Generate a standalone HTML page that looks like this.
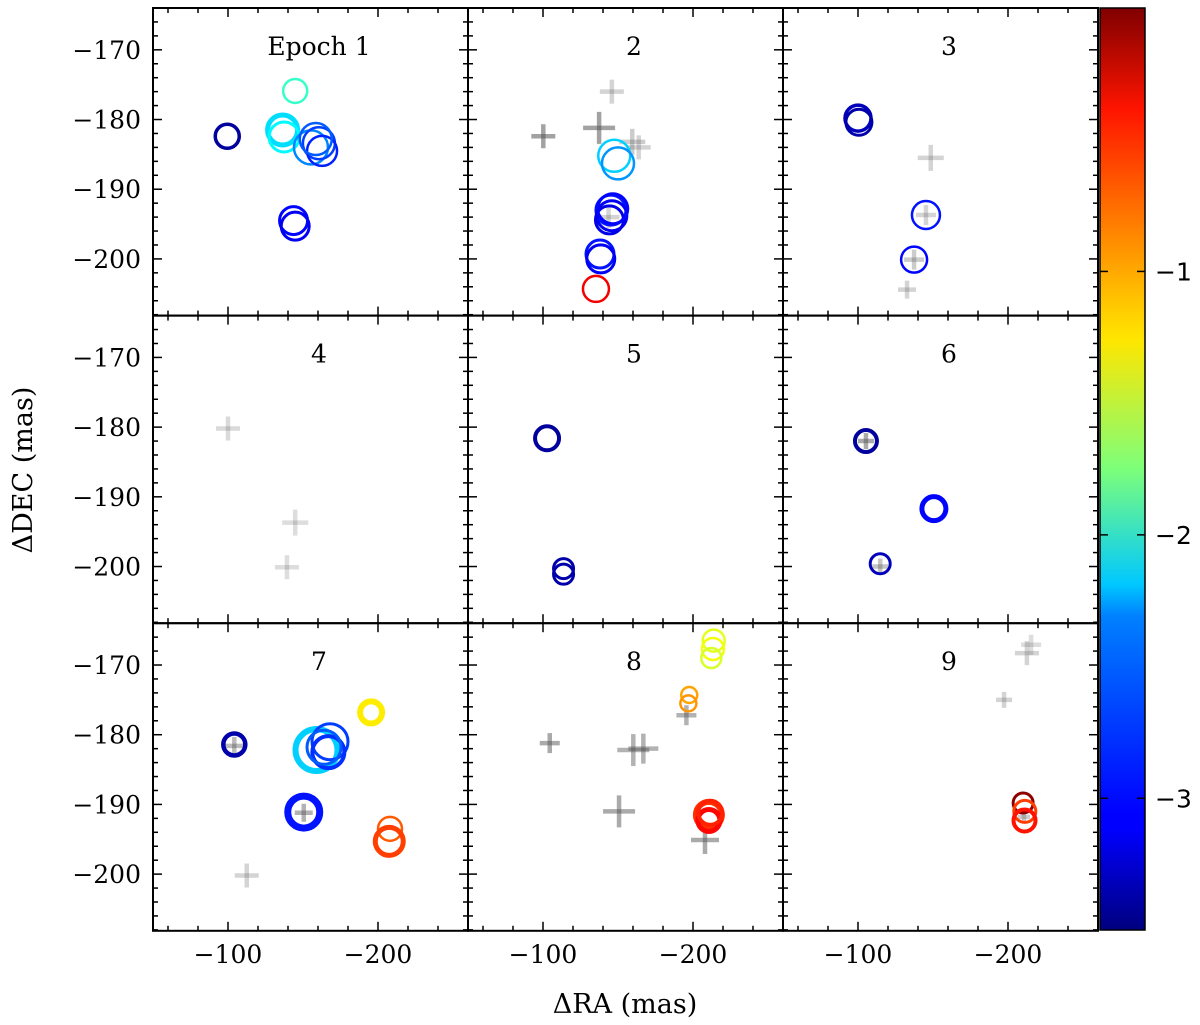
<!DOCTYPE html>
<html><head><meta charset="utf-8">
<style>
html,body{margin:0;padding:0;background:#fff;}
svg{display:block;}
.tk{font-family:"DejaVu Serif","Liberation Serif",serif;font-size:25px;fill:#000;}
.ax{font-family:"DejaVu Serif","Liberation Serif",serif;font-size:27px;fill:#000;}
.cb{font-family:"DejaVu Sans","Liberation Sans",sans-serif;font-size:25px;fill:#000;}
</style></head>
<body>
<svg id="fig" width="1200" height="1025" viewBox="0 0 1200 1025" xmlns="http://www.w3.org/2000/svg">
<defs>
<linearGradient id="jet" x1="0" y1="1" x2="0" y2="0">
<stop offset="0" stop-color="#00007f"/><stop offset="0.11" stop-color="#0000ff"/><stop offset="0.125" stop-color="#0000ff"/>
<stop offset="0.34" stop-color="#0080ff"/><stop offset="0.375" stop-color="#00c8ff"/><stop offset="0.5" stop-color="#7dff7a"/>
<stop offset="0.64" stop-color="#ffe600"/><stop offset="0.66" stop-color="#ffd700"/><stop offset="0.89" stop-color="#ff1400"/><stop offset="1" stop-color="#7f0000"/>
</linearGradient>
</defs>
<g id="panels"></g>
<g id="marks"></g>
<g id="frames"></g>
</svg>
<script>
// Panel labels
const panelLabels = ["Epoch 1","2","3","4","5","6","7","8","9"];
// Axis ticks
const xTickVals = [-100,-200];
const yTickVals = [-170,-180,-190,-200];
const cbTickVals = [-1,-2,-3];
// Circle markers (detections): panel index 1-9, RA, DEC, colour value (log)
const circPanel = [1,1,1,1,1,1,1,1,1,1, 2,2,2,2,2,2,2,2,2, 3,3,3,3, 5,5,5, 6,6,6, 7,7,7,7,7,7,7,7,7, 8,8,8,8,8,8,8,8, 9,9,9];
const circRA = [-99.5,-144.8,-136.4,-137.4,-155.3,-160.6,-162.7,-143.7,-144.8,-158.5,
  -147.5,-150,-145.3,-145.9,-144.3,-138,-138.5,-135.3,-146.5,
  -100,-100.6,-145.3,-137.4,
  -102.7,-113.7,-113.7,
  -105.3,-150.6,-114.8,
  -104.2,-159,-168,-166.9,-195.4,-150.5,-208,-207.5,-164,
  -213.8,-213.3,-212.2,-197.5,-196.9,-210.6,-210.6,-211.5,
  -210.1,-211.2,-211];
const circDEC = [-182.4,-175.9,-181.5,-182.5,-184,-183.4,-184.5,-194.5,-195.3,-182.8,
  -185.2,-186.3,-193,-193.8,-194.4,-199.3,-200,-204.3,-192.8,
  -179.8,-180.4,-193.7,-200.1,
  -181.6,-200.3,-201.1,
  -182,-191.7,-199.6,
  -181.4,-182.2,-181,-182.5,-176.8,-191.1,-193.5,-195.3,-181.8,
  -166.5,-167.7,-169,-174.3,-175.5,-191.5,-192.3,-191.2,
  -189.8,-191,-192.3];
const circVal = [-3.4,-2.0,-2.3,-2.2,-2.6,-2.85,-2.95,-3.05,-3.1,-2.75,
  -2.35,-2.55,-3.0,-3.1,-3.15,-3.0,-3.1,-0.4,-3.05,
  -3.3,-3.35,-3.0,-3.05,
  -3.4,-3.35,-3.35,
  -3.4,-3.05,-3.3,
  -3.35,-2.35,-2.85,-2.9,-1.25,-3.0,-0.75,-0.65,-2.75,
  -1.4,-1.35,-1.45,-1.0,-0.95,-0.6,-0.45,-0.55,
  -0.05,-0.65,-0.5];
const circSize = [12,12,15,15,17,16,15,14,14,16, 16,16,15,15,14,14,14,13,15, 13,13,14,13, 12,10,10, 11,12,10, 11,21,18,16,11,16,12,14,17, 11,11,10,8,8,13,11,12, 10,11,11];
const circWidth = [3.5,2.5,5,3,2.5,2.5,2.5,3,3,2.5, 2.5,2.5,3,3,3,3,3,2.5,3, 3.5,3,2.5,2.5, 4,3,3, 4,5,3, 4.5,6,3,4,6,7,2.5,5,3, 2.5,2.5,2.5,2.5,2.5,6,5,4, 3,3,4];
// Cross markers (reference positions)
const crossPanel = [2,2,2,2,2,2, 3,3,3,3, 4,4,4, 6,6, 7,7,7, 8,8,8,8,8,8, 9,9,9,9];
const crossRA = [-100.2,-137.4,-145.9,-159.5,-163.8,-143.7, -148.5,-145.3,-137.4,-132.7, -100,-144.8,-139.3, -105.3,-114.8, -104.2,-150.5,-112.5, -195.6,-104.5,-160.2,-166.9,-150.7,-208, -215.4,-212.6,-197.4,-210.6];
const crossDEC = [-182.4,-181.2,-176,-183.2,-184,-194, -185.5,-193.7,-200.1,-204.4, -180.2,-193.7,-200.1, -182,-200, -181.6,-191.2,-200.2, -177.2,-181.2,-182.2,-182,-191,-195.1, -167.1,-168.3,-175,-191.8];
const crossSize = [12,16,12,13,12,11, 13,10,10,9, 12,13,12, 8,8, 9,9,12, 10,10,16,15,16,14, 10,12,8,6];
const crossAlpha = [0.55,0.55,0.25,0.3,0.25,0.25, 0.25,0.25,0.3,0.25, 0.22,0.2,0.2, 0.5,0.35, 0.4,0.45,0.25, 0.45,0.5,0.45,0.45,0.5,0.5, 0.2,0.25,0.25,0.3];

const NS="http://www.w3.org/2000/svg";
const L0=153, T0=8, PW=315, PH=307.6;
const X0=-50, XS=1.5, YTOP=-164, YS=6.97;
const CB_X=1100, CB_W=45, CB_T=8, CB_B=930, CB_MIN=-3.5, CB_MAX=0;
function mk(tag,attrs,parent){const e=document.createElementNS(NS,tag);for(const k in attrs)e.setAttribute(k,attrs[k]);parent.appendChild(e);return e;}
function pLeft(p){return L0+((p-1)%3)*PW;}
function pTop(p){return T0+Math.floor((p-1)/3)*PH;}
function xPx(p,ra){return pLeft(p)+(X0-ra)*XS;}
function yPx(p,dec){return pTop(p)+(YTOP-dec)*YS;}
function cbY(v){return CB_B-(v-CB_MIN)/(CB_MAX-CB_MIN)*(CB_B-CB_T);}
function jet(v){
  let t=(v-CB_MIN)/(CB_MAX-CB_MIN);t=Math.max(0,Math.min(1,t));
  const c=x=>Math.max(0,Math.min(1,x));
  const r=c(Math.min(4*t-1.5,-4*t+4.5)),g=c(Math.min(4*t-0.5,-4*t+3.5)),b=c(Math.min(4*t+0.5,-4*t+2.5));
  return `rgb(${Math.round(r*255)},${Math.round(g*255)},${Math.round(b*255)})`;
}
const svg=document.getElementById('fig');
const gP=document.getElementById('panels'),gM=document.getElementById('marks'),gF=document.getElementById('frames');

// crosses
for(let i=0;i<crossPanel.length;i++){
  const p=crossPanel[i],cx=xPx(p,crossRA[i]),cy=yPx(p,crossDEC[i]),s=crossSize[i];
  const g=mk('g',{stroke:'#555','stroke-width':4.5,'stroke-opacity':crossAlpha[i]},gM);
  
  
  mk('line',{x1:cx-s,y1:cy,x2:cx+s,y2:cy},g);
  mk('line',{x1:cx,y1:cy-s,x2:cx,y2:cy+s},g);
}
// circles
for(let i=0;i<circPanel.length;i++){
  const p=circPanel[i];
  const c=mk('circle',{cx:xPx(p,circRA[i]),cy:yPx(p,circDEC[i]),r:circSize[i],fill:'none',stroke:jet(circVal[i]),'stroke-width':circWidth[i]},gM);
  
  
}
// frames, ticks, labels
for(let p=1;p<=9;p++){
  const l=pLeft(p),t=pTop(p),col=(p-1)%3,row=Math.floor((p-1)/3);
  const fr=mk('rect',{x:l,y:t,width:PW,height:PH,fill:'none',stroke:'#000','stroke-width':2},gF);
  
  
  const g=mk('g',{stroke:'#000','stroke-width':1.5},gF);
  for(let v=-60;v>=-260;v-=20){
    const x=xPx(p,v),maj=(v%100===0),len=maj?9:5;
    mk('line',{x1:x,y1:t,x2:x,y2:t+len},g);
    mk('line',{x1:x,y1:t+PH,x2:x,y2:t+PH-len},g);
  }
  for(let v=-164;v>=-208;v-=2){
    const y=yPx(p,v),maj=(v%10===0),len=maj?9:5;
    mk('line',{x1:l,y1:y,x2:l+len,y2:y},g);
    mk('line',{x1:l+PW,y1:y,x2:l+PW-len,y2:y},g);
  }
  const lab=mk('text',{x:l+166,y:t+47,'text-anchor':'middle',class:'tk'},gF);
  lab.textContent=panelLabels[p-1];
  
  
  if(col===0){
    yTickVals.forEach(v=>{
      const tx=mk('text',{x:l-12,y:yPx(p,v)+9,'text-anchor':'end',class:'tk'},gF);
      tx.textContent='\u2212'+Math.abs(v);
      
      
    });
  }
  if(row===2){
    xTickVals.forEach(v=>{
      const tx=mk('text',{x:xPx(p,v),y:t+PH+32,'text-anchor':'middle',class:'tk'},gF);
      tx.textContent='\u2212'+Math.abs(v);
      
      
    });
  }
}
// colorbar
const cb=mk('rect',{x:CB_X,y:CB_T,width:CB_W,height:CB_B-CB_T,fill:'url(#jet)',stroke:'#000','stroke-width':1.5},gF);


cbTickVals.forEach(v=>{
  const y=cbY(v);
  mk('line',{x1:CB_X,y1:y,x2:CB_X+8,y2:y,stroke:'#000','stroke-width':1.5},gF);
  mk('line',{x1:CB_X+CB_W,y1:y,x2:CB_X+CB_W-8,y2:y,stroke:'#000','stroke-width':1.5},gF);
  const tx=mk('text',{x:CB_X+CB_W+10,y:y+9,class:'cb'},gF);
  tx.textContent='\u2212'+Math.abs(v);
  
  
});
// axis titles
const xt=mk('text',{x:625,y:1013,'text-anchor':'middle',class:'ax'},gF);
xt.textContent='\u0394RA (mas)';


const yt=mk('text',{x:0,y:0,'text-anchor':'middle',class:'ax'},gF);
yt.setAttribute('transform','translate(32,470) rotate(-90)');
yt.textContent='\u0394DEC (mas)';


</script>
</body></html>
